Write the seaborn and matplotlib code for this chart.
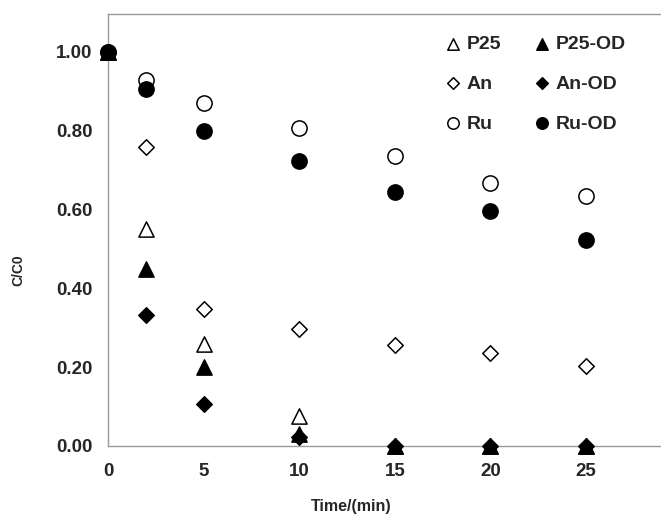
import matplotlib
matplotlib.use("Agg")
import matplotlib.pyplot as plt
import seaborn as sns
import pandas as pd

# Sampling times (min)
time_min = [0, 2, 5, 10, 15, 20, 25]

# Normalised concentration C/C0 for each catalyst
p25 = [1.00, 0.55, 0.26, 0.076, 0.0, 0.0, 0.0]
an = [1.00, 0.758, 0.347, 0.297, 0.256, 0.237, 0.203]
ru = [1.00, 0.929, 0.871, 0.806, 0.737, 0.668, 0.635]
p25_od = [1.00, 0.448, 0.201, 0.03, 0.0, 0.0, 0.0]
an_od = [1.00, 0.332, 0.106, 0.022, 0.0, 0.0, 0.0]
ru_od = [1.00, 0.905, 0.800, 0.723, 0.645, 0.597, 0.523]

series_names = ["P25", "An", "Ru", "P25-OD", "An-OD", "Ru-OD"]
series_values = [p25, an, ru, p25_od, an_od, ru_od]

x_ticks = [0, 5, 10, 15, 20, 25]
y_ticks = [0.0, 0.2, 0.4, 0.6, 0.8, 1.0]

sns.set_style("white")
plt.rcParams["font.family"] = ["Liberation Sans", "DejaVu Sans"]
plt.rcParams["font.weight"] = "bold"

styles = {
    "P25": dict(marker="^", facecolor="white", size=120),
    "An": dict(marker="D", facecolor="white", size=62),
    "Ru": dict(marker="o", facecolor="white", size=120),
    "P25-OD": dict(marker="^", facecolor="black", size=120),
    "An-OD": dict(marker="D", facecolor="black", size=62),
    "Ru-OD": dict(marker="o", facecolor="black", size=120),
}

fig = plt.figure(figsize=(6.61, 5.19), dpi=100)
ax = fig.add_axes([108 / 661, 1 - 446 / 519, 1 - 108 / 661, (446 - 14) / 519])

for name, vals in zip(series_names, series_values):
    df = pd.DataFrame({"t": time_min, "c": vals})
    st = styles[name]
    sns.scatterplot(
        data=df, x="t", y="c", ax=ax, marker=st["marker"], s=st["size"],
        facecolor=st["facecolor"], edgecolor="black", linewidth=1.1,
        label=name, clip_on=False, zorder=3,
    )

ax.set_xlim(0, 28.92)
ax.set_ylim(0, 1.096)
ax.set_xticks(x_ticks)
ax.set_yticks(y_ticks)
ax.set_xticklabels([str(v) for v in x_ticks], fontsize=13.5, fontweight="bold")
ax.set_yticklabels([f"{v:.2f}" for v in y_ticks], fontsize=13.5, fontweight="bold")
ax.tick_params(axis="x", direction="in", length=6, color="#999999", pad=12)
ax.tick_params(axis="y", direction="out", length=5, color="#999999", pad=6)

for side in ["left", "bottom", "top"]:
    ax.spines[side].set_color("#9a9a9a")
    ax.spines[side].set_linewidth(1.0)
ax.spines["right"].set_visible(False)

ax.set_xlabel("Time/(min)", fontsize=11.5, fontweight="bold")
ax.set_ylabel("C/C0", fontsize=10, fontweight="bold")
# Axis titles placed in figure pixels
ax.xaxis.set_label_coords(351 / 661, 1 - 507 / 519, transform=fig.transFigure)
ax.yaxis.set_label_coords(18 / 661, 1 - 270 / 519, transform=fig.transFigure)
ax.xaxis.label.set_va("center")
ax.yaxis.label.set_va("center")

handles, labels = ax.get_legend_handles_labels()
ax.legend(
    handles, labels, ncol=2, frameon=False, loc="upper left",
    bbox_to_anchor=(444 / 661, 1 - 35 / 519), bbox_transform=fig.transFigure,
    prop={"size": 14, "weight": "bold"}, markerscale=0.75,
    handlelength=0.95, handletextpad=0.2, columnspacing=1.65,
    labelspacing=1.15, borderaxespad=0.0, borderpad=0.0,
)

fig.savefig("out.png", dpi=100)
